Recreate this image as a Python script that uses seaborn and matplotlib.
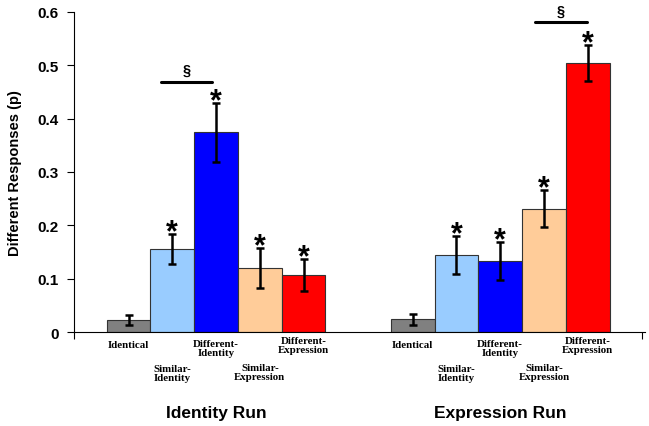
import pandas as pd
import numpy as np
import matplotlib.pyplot as plt
import seaborn as sns
from matplotlib.transforms import blended_transform_factory

# ===== DATA =====
runs = ['Identity Run', 'Expression Run']
conditions = ['Identical', 'Similar-Identity', 'Different-Identity',
              'Similar-Expression', 'Different-Expression']
cond_labels = ['Identical', 'Similar-\nIdentity', 'Different-\nIdentity',
               'Similar-\nExpression', 'Different-\nExpression']

identity_vals = [0.023, 0.156, 0.374, 0.120, 0.106]
identity_err = [0.009, 0.028, 0.055, 0.038, 0.030]
expression_vals = [0.024, 0.144, 0.133, 0.231, 0.504]
expression_err = [0.010, 0.036, 0.036, 0.035, 0.034]

# which bars get a star
identity_star = [False, True, True, True, True]
expression_star = [False, True, True, True, True]

# significance brackets: (run index, from condition, to condition, height)
sig_lines = [(0, 1, 2, 0.469), (1, 3, 4, 0.580)]
# bracket ends, shifted by a fraction of bar width (layout only)
sig_shift = [(-0.26, -0.10), (-0.20, -0.02)]

colors = ['#808080', '#99ccff', '#0000ff', '#ffcc99', '#ff0000']

df = pd.DataFrame({
    'Run': np.repeat(runs, len(conditions)),
    'Condition': conditions * 2,
    'Value': identity_vals + expression_vals,
})
errs = [identity_err, expression_err]
stars = [identity_star, expression_star]
vals = [identity_vals, expression_vals]

# ===== PLOT =====
sns.set_style('white')
plt.rcParams['font.family'] = ['Liberation Sans', 'DejaVu Sans']
plt.rcParams['text.color'] = 'black'
plt.rcParams['axes.labelcolor'] = 'black'
plt.rcParams['xtick.color'] = 'black'
plt.rcParams['ytick.color'] = 'black'

fig = plt.figure(figsize=(6.49, 4.27), dpi=100)
ax = fig.add_axes([0.114, 0.22, 0.88, 0.75])

sns.barplot(data=df, x='Run', y='Value', hue='Condition', order=runs,
            hue_order=conditions, palette=colors, saturation=1, width=0.77,
            edgecolor='#333333', linewidth=0.8, errorbar=None,
            legend=False, ax=ax)

# bar centres per (run, condition)
centres = np.zeros((len(runs), len(conditions)))
bw = 0.16
for j, cont in enumerate(ax.containers):
    for i, bar in enumerate(cont):
        centres[i, j] = bar.get_x() + bar.get_width() / 2
        bw = bar.get_width()

for i in range(len(runs)):
    ax.errorbar(centres[i], vals[i], yerr=errs[i], fmt='none',
                ecolor='black', elinewidth=1.8, capsize=3, capthick=1.8)
    for j in range(len(conditions)):
        if stars[i][j]:
            ax.annotate('*', (centres[i, j], vals[i][j] + errs[i][j]),
                        xytext=(0, -4.5), textcoords='offset points',
                        ha='center', va='baseline', fontsize=22,
                        fontweight='bold')

for (i, a, b, h), (sa, sb) in zip(sig_lines, sig_shift):
    x0 = centres[i, a] + sa * bw
    x1 = centres[i, b] + sb * bw
    ax.plot([x0, x1], [h, h], color='black', lw=2.2)
    ax.annotate('§', ((x0 + x1) / 2, h), xytext=(0, 3.5),
                textcoords='offset points', ha='center', va='bottom',
                fontsize=10.5, fontweight='bold')

ax.set_xlim(-0.5, 1.51)
ax.set_ylim(0, 0.6)
ax.set_yticks([0, 0.1, 0.2, 0.3, 0.4, 0.5, 0.6])
ax.set_yticklabels(['0', '0.1', '0.2', '0.3', '0.4', '0.5', '0.6'],
                   fontsize=11, fontweight='bold')
ax.tick_params(axis='y', direction='out', length=5, width=0.8, left=True,
               pad=6)
ax.set_xticks([-0.5, 1.5])
ax.set_xticklabels(['', ''])
ax.tick_params(axis='x', direction='out', length=5, width=0.8, bottom=True)
ax.set_xlabel('')
ax.set_ylabel('Different Responses (p)', fontsize=10.5, fontweight='bold',
              labelpad=11)
sns.despine(ax=ax)
for s in ['left', 'bottom']:
    ax.spines[s].set_color('black')
    ax.spines[s].set_linewidth(0.8)

# staggered condition labels under bars (offsets in pixels below axis)
trans = blended_transform_factory(ax.transData, ax.transAxes)
ax_h = ax.get_window_extent().height
label_drop = [12, 41, 16, 40, 13]
for i in range(len(runs)):
    for j, lab in enumerate(cond_labels):
        ax.text(centres[i, j], -label_drop[j] / ax_h, lab, transform=trans,
                ha='center', va='center', fontsize=7.8, fontweight='bold',
                family=['Liberation Serif'], linespacing=1.0)
    ax.text(i, -80 / ax_h, runs[i], transform=trans, ha='center',
            va='center', fontsize=12.5, fontweight='bold')

plt.savefig('out.png', dpi=100)
